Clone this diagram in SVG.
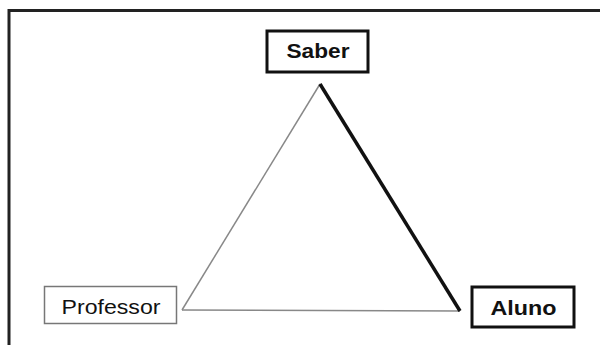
<svg xmlns="http://www.w3.org/2000/svg" width="600" height="345" viewBox="0 0 600 345">
<style>
.lbl{font-family:"Liberation Sans",Arial,sans-serif;font-size:20px;text-anchor:middle;fill:#111}
.b{font-weight:bold}
.thick{fill:#fff;stroke:#111;stroke-width:3}
.thin{fill:#fff;stroke:#777;stroke-width:1.5}
</style>
<rect width="600" height="345" fill="#fff"/>
<path d="M9 345 V10.5 H600" fill="none" stroke="#222" stroke-width="3"/>
<g id="connectors" fill="none">
<line x1="320" y1="84" x2="182" y2="310" stroke="#888" stroke-width="1.5"/>
<line x1="182" y1="310" x2="460" y2="311" stroke="#888" stroke-width="1.5"/>
<line x1="320" y1="84" x2="460" y2="311" stroke="#111" stroke-width="3.5"/>
</g>
<g id="saber">
<rect class="thick" x="267" y="31" width="101" height="41"/>
<text class="lbl b" x="318" y="58" textLength="63" lengthAdjust="spacingAndGlyphs">Saber</text>
</g>
<g id="professor">
<rect class="thin" x="44.5" y="286.5" width="132" height="37"/>
<text class="lbl" x="111" y="314" fill="#222" textLength="99" lengthAdjust="spacingAndGlyphs">Professor</text>
</g>
<g id="aluno">
<rect class="thick" x="472" y="287" width="102" height="40"/>
<text class="lbl b" x="523.5" y="315" textLength="66" lengthAdjust="spacingAndGlyphs">Aluno</text>
</g>
</svg>
